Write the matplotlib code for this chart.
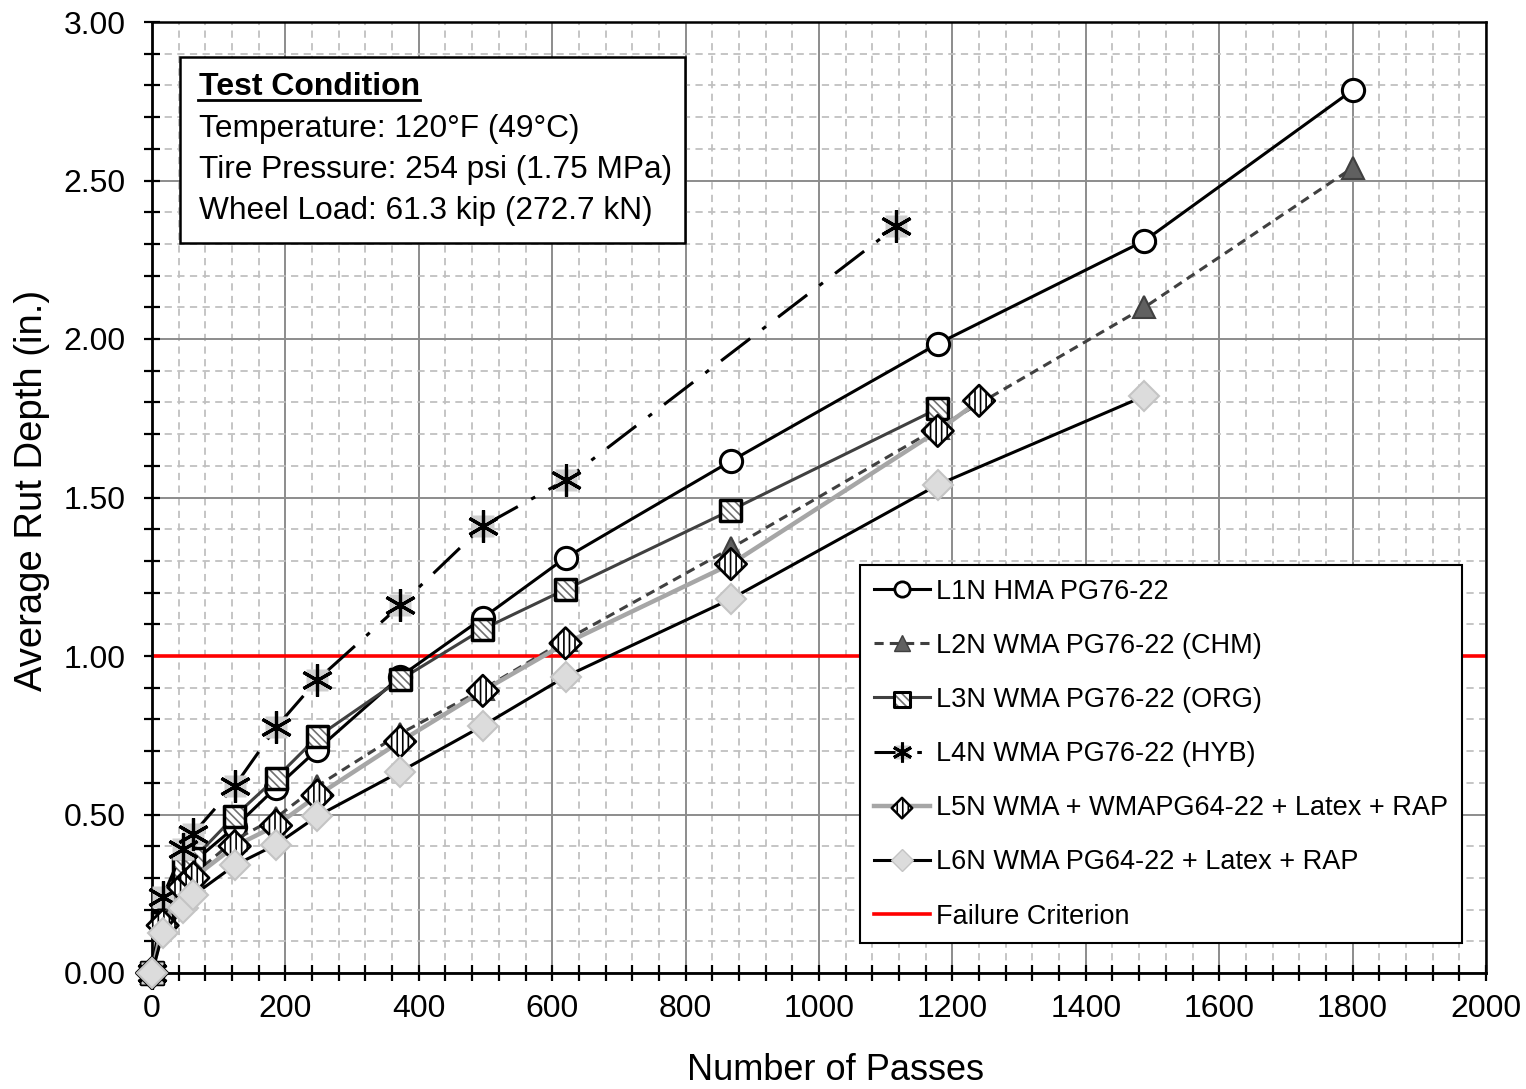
import matplotlib.pyplot as plt
import numpy as np
from matplotlib.lines import Line2D
from matplotlib.patches import Rectangle
from matplotlib.legend_handler import HandlerTuple

plt.rcParams['font.family'] = ['Liberation Sans', 'DejaVu Sans']
plt.rcParams['hatch.linewidth'] = 1.2

# passes at which rut depth was measured
passes_full = [0, 16, 47, 62, 124, 186, 248, 372, 496, 620, 868, 1178, 1488, 1800]
passes_l3 = [0, 16, 47, 62, 124, 186, 248, 372, 496, 620, 868, 1178]
passes_l4 = [0, 16, 47, 62, 124, 186, 248, 372, 496, 620, 1116]
passes_l5 = [0, 16, 47, 62, 124, 186, 248, 372, 496, 620, 868, 1178, 1240]
passes_l6 = [0, 16, 47, 62, 124, 186, 248, 372, 496, 620, 868, 1178, 1488]

rut_l1 = [0, 0.17, 0.30, 0.35, 0.46, 0.585, 0.705, 0.935, 1.12, 1.31, 1.615, 1.985, 2.31, 2.785]
rut_l2 = [0, 0.15, 0.27, 0.31, 0.42, 0.49, 0.59, 0.755, 0.895, 1.05, 1.34, 1.72, 2.10, 2.54]
rut_l3 = [0, 0.16, 0.33, 0.36, 0.495, 0.615, 0.745, 0.925, 1.085, 1.21, 1.46, 1.78]
rut_l4 = [0, 0.24, 0.39, 0.44, 0.59, 0.775, 0.925, 1.16, 1.41, 1.555, 2.355]
rut_l5 = [0, 0.15, 0.27, 0.30, 0.40, 0.465, 0.56, 0.73, 0.89, 1.04, 1.29, 1.71, 1.805]
rut_l6 = [0, 0.125, 0.205, 0.245, 0.34, 0.405, 0.495, 0.635, 0.78, 0.935, 1.18, 1.54, 1.82]

labels = ["L1N HMA PG76-22", "L2N WMA PG76-22 (CHM)", "L3N WMA PG76-22 (ORG)",
          "L4N WMA PG76-22 (HYB)", "L5N WMA + WMAPG64-22 + Latex + RAP",
          "L6N WMA PG64-22 + Latex + RAP", "Failure Criterion"]
failure_depth = 1.0

W, H = 1526, 1089
fig = plt.figure(figsize=(W / 100, H / 100), dpi=100)
ax = fig.add_axes([152 / W, 1 - 973 / H, (1486 - 152) / W, (973 - 22) / H])


def fx(px):
    return px / W


def fy(py):
    return 1 - py / H


ms = 16
s_big = ms ** 2
hatch_sq = '\\\\\\\\'
hatch_dm = '|||'

# L1 - open circles, black line
h1 = ax.plot(passes_full, rut_l1, color='black', lw=2.2, marker='o', ms=ms,
             mfc='white', mec='black', mew=2.2, zorder=3.0, clip_on=False)[0]

# L2 - dark grey triangles, dashed line
h2 = ax.plot(passes_full, rut_l2, color='#404040', lw=2.2, ls=(0, (3, 2)), marker='^', ms=ms,
             mfc='#606060', mec='#404040', mew=1.5, zorder=3.1, clip_on=False)[0]

# L3 - hatched squares
l3 = ax.plot(passes_l3, rut_l3, color='#404040', lw=2.2, zorder=3.2)[0]
ax.scatter(passes_l3, rut_l3, s=s_big * 0.9, marker='s', facecolor='white',
           edgecolor='#707070', hatch=hatch_sq, lw=0, zorder=3.25, clip_on=False)
ax.scatter(passes_l3, rut_l3, s=s_big * 0.9, marker='s', facecolor='none',
           edgecolor='black', lw=2.5, zorder=3.26, clip_on=False)

# L4 - asterisks on light grey squares, dash-dot line
l4 = ax.plot(passes_l4, rut_l4, color='black', lw=2.2, ls=(0, (12, 5, 1.5, 5)), zorder=3.3)[0]
ax.plot(passes_l4, rut_l4, ls='none', marker='s', ms=ms * 1.0, mfc='#d0d0d0', mec='none',
        zorder=3.32, clip_on=False)
ax.plot(passes_l4, rut_l4, ls='none', marker=(6, 2, 0), ms=ms * 1.45, color='black', mew=2.3,
        zorder=3.34, clip_on=False)

# L5 - hatched diamonds, light grey thick line
l5 = ax.plot(passes_l5, rut_l5, color='#a6a6a6', lw=3.2, zorder=3.4)[0]
ax.scatter(passes_l5, rut_l5, s=s_big * 1.0, marker='D', facecolor='white',
           edgecolor='black', hatch=hatch_dm, lw=0, zorder=3.45, clip_on=False)
ax.scatter(passes_l5, rut_l5, s=s_big * 1.0, marker='D', facecolor='none',
           edgecolor='black', lw=2.0, zorder=3.46, clip_on=False)

# L6 - light grey diamonds, black line
h6 = ax.plot(passes_l6, rut_l6, color='black', lw=2.2, marker='D', ms=ms * 0.95,
             mfc='#dcdcdc', mec='#c4c4c4', mew=1.5, zorder=3.5, clip_on=False)[0]

hred = ax.axhline(failure_depth, color='#ff0000', lw=2.6, zorder=2.5)

ax.set_xlim(0, 2000)
ax.set_ylim(0, 3)
ax.set_xticks(np.arange(0, 2001, 200))
ax.set_xticks(np.arange(0, 2001, 40), minor=True)
ax.set_yticks(np.arange(0, 3.01, 0.5))
ax.set_yticks(np.arange(0, 3.01, 0.1), minor=True)
ax.set_yticklabels([f"{v:.2f}" for v in np.arange(0, 3.01, 0.5)])

ax.set_axisbelow(True)
ax.grid(which='major', color='#8c8c8c', lw=1.4, ls='-')
ax.grid(which='minor', color='#c0c0c0', lw=1.3, ls=(0, (4, 3)))

ax.tick_params(which='both', direction='inout', length=12, width=1.6, color='black')
ax.tick_params(axis='x', labelsize=23, pad=9)
ax.tick_params(axis='y', labelsize=23, pad=13)
for side in ['left', 'bottom']:
    ax.spines[side].set_linewidth(2.0)
for side in ['top', 'right']:
    ax.spines[side].set_linewidth(1.8)

ax.set_xlabel("Number of Passes", fontsize=26)
ax.set_ylabel("Average Rut Depth (in.)", fontsize=27.5)
ax.xaxis.set_label_coords((835 - 152) / 1334, (973 - 1070) / 951)
ax.yaxis.set_label_coords((32 - 152) / 1334, (973 - 490) / 951)
ax.xaxis.label.set_va('center')
ax.yaxis.label.set_va('center')

# legend handles (empty scatters keep the hatching in the legend)
lms = 11
lh1 = Line2D([], [], color='black', lw=2.2, marker='o', ms=lms, mfc='white', mec='black', mew=2)
lh2 = Line2D([], [], color='#404040', lw=2.2, ls=(0, (3, 2)), marker='^', ms=lms,
             mfc='#606060', mec='#404040')
lh3 = (Line2D([], [], color='#404040', lw=2.2),
       ax.scatter([], [], s=lms ** 2, marker='s', facecolor='white', edgecolor='#707070',
                  hatch=hatch_sq, lw=0),
       ax.scatter([], [], s=lms ** 2, marker='s', facecolor='none', edgecolor='black', lw=2.2))
lh4 = (Line2D([], [], color='black', lw=2.2, ls=(0, (10, 4, 1.5, 4))),
       Line2D([], [], ls='none', marker='s', ms=lms * 0.9, mfc='#d0d0d0', mec='none'),
       Line2D([], [], ls='none', marker=(6, 2, 0), ms=lms * 1.3, color='black', mew=2.2))
lh5 = (Line2D([], [], color='#a6a6a6', lw=3.2),
       ax.scatter([], [], s=(lms * 0.95) ** 2, marker='D', facecolor='white', edgecolor='black',
                  hatch=hatch_dm, lw=0),
       ax.scatter([], [], s=(lms * 0.95) ** 2, marker='D', facecolor='none', edgecolor='black',
                  lw=1.8))
lh6 = Line2D([], [], color='black', lw=2.2, marker='D', ms=lms, mfc='#dcdcdc', mec='#c4c4c4')

leg = ax.legend([lh1, lh2, lh3, lh4, lh5, lh6, hred], labels,
                handler_map={tuple: HandlerTuple(ndivide=1, pad=0)},
                loc='upper left', bbox_to_anchor=(fx(860), fy(565)),
                bbox_transform=fig.transFigure, borderaxespad=0, fontsize=19.5,
                handlelength=2.1, handletextpad=0.22, labelspacing=1.04,
                borderpad=0.5, fancybox=False, framealpha=1, edgecolor='black',
                scatterpoints=1)
leg.get_frame().set_linewidth(1.5)
leg.set_zorder(10)

# test condition box
fig.add_artist(Rectangle((fx(180), fy(243)), (685 - 180) / W, (243 - 57) / H,
                         transform=fig.transFigure, facecolor='white',
                         edgecolor='black', lw=1.8, zorder=5))
fig.text(fx(199), fy(95), "Test Condition", fontsize=23, fontweight='bold',
         va='baseline', zorder=6)
fig.add_artist(Line2D([fx(198), fx(420)], [fy(100), fy(100)], transform=fig.transFigure,
                      color='black', lw=2, zorder=6))
cond_lines = ["Temperature: 120°F (49°C)", "Tire Pressure: 254 psi (1.75 MPa)",
              "Wheel Load: 61.3 kip (272.7 kN)"]
for k, t in enumerate(cond_lines):
    fig.text(fx(199), fy(137 + 41 * k), t, fontsize=22.8, va='baseline', zorder=6)

fig.savefig("out.png", dpi=100)
